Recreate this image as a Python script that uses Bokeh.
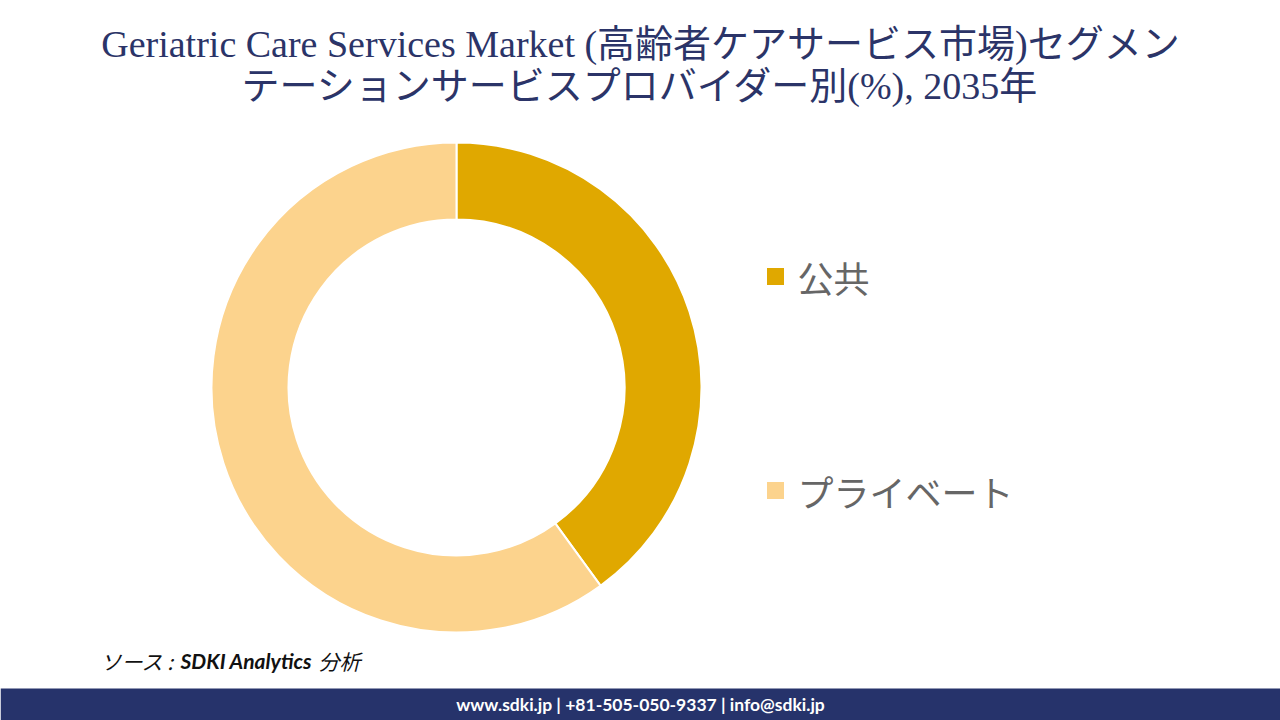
import math
from bokeh.plotting import figure
from bokeh.models import Range1d, ColumnDataSource
from bokeh.core.properties import value
from bokeh.embed import file_html
from bokeh.resources import INLINE

# Data
categories = ["公共", "プライベート"]
shares = [40, 60]
colors = ["#E0A800", "#FCD38D"]
title_lines = ["Geriatric Care Services Market (高齢者ケアサービス市場)セグメン",
               "テーションサービスプロバイダー別(%), 2035年"]
footer_text = "www.sdki.jp | +81-505-050-9337 | info@sdki.jp"

W, H = 1280, 720
p = figure(width=W, height=H, x_range=Range1d(0, W), y_range=Range1d(0, H),
           output_backend="svg", toolbar_location=None)
p.axis.visible = False
p.grid.visible = False
p.outline_line_color = None
p.min_border = 0
p.background_fill_color = "white"
p.border_fill_color = "white"

def Y(py):
    return H - py

# Donut
cx, cy = 456, Y(387)
total = sum(shares)
starts, ends = [], []
a = math.pi / 2
for s in shares:
    starts.append(a)
    a -= 2 * math.pi * s / total
    ends.append(a)
src = ColumnDataSource(dict(start=starts, end=ends, color=colors, cat=categories))
p.annular_wedge(x=cx, y=cy, inner_radius=168, outer_radius=245, start_angle="start",
                end_angle="end", direction="clock", fill_color="color",
                line_color="white", line_width=2, source=src)

# Legend
leg_y = [Y(276), Y(490)]
lsrc = ColumnDataSource(dict(x=[775, 775], y=leg_y, color=colors, cat=categories,
                             tx=[797, 797]))
p.scatter(x="x", y="y", marker="square", size=17, fill_color="color", line_color=None,
          source=lsrc)
p.text(x="tx", y="y", text="cat", source=lsrc, text_font=value("Noto Sans CJK JP"),
       text_font_size="36px", text_color="#666666", text_baseline="middle",
       text_font_style="normal")

# Title
p.text(x=[640, 640], y=[Y(43), Y(85)], text=title_lines,
       text_font=value("Liberation Serif, Noto Sans CJK JP"), text_font_size="38px",
       text_color="#2B3468", text_align="center", text_baseline="middle")

# Source
p.text(x=[100], y=[Y(660)], text=["ソース :"], text_font=value("Noto Sans CJK JP"),
       text_font_size="21px", text_font_style="italic", text_color="#111111",
       text_baseline="middle")
p.text(x=[180], y=[Y(660)], text=["SDKI Analytics"], text_font=value("Lato"),
       text_font_size="21px", text_font_style="bold italic", text_color="#111111",
       text_baseline="middle")
p.text(x=[318], y=[Y(660)], text=["分析"], text_font=value("Noto Sans CJK JP"),
       text_font_size="21px", text_font_style="italic", text_color="#111111",
       text_baseline="middle")

# Footer
p.quad(left=0, right=W, bottom=0, top=Y(688), fill_color="#26336B", line_color=None)
p.text(x=[640], y=[Y(704)], text=[footer_text], text_font=value("Lato"),
       text_font_size="17.5px", text_font_style="bold", text_color="white",
       text_align="center", text_baseline="middle")

open("out.html", "w").write(file_html(p, INLINE))
